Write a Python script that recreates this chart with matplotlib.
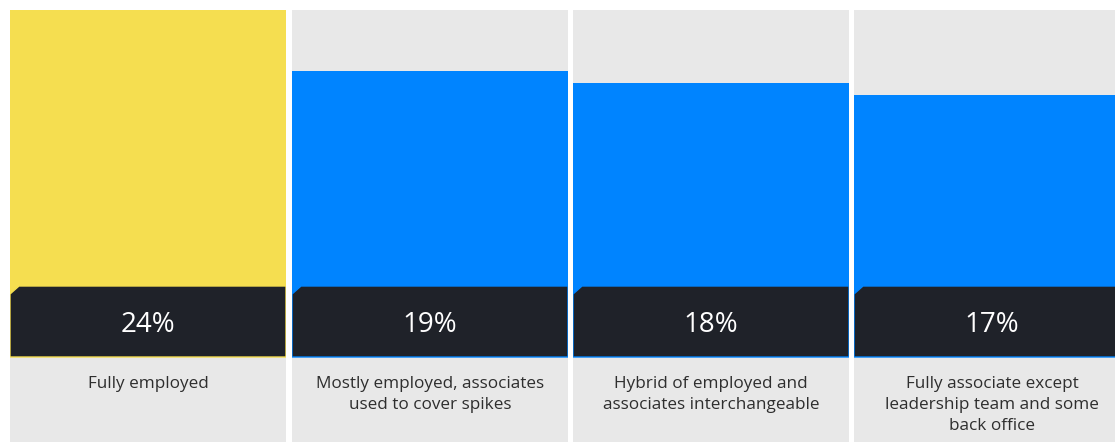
import matplotlib
matplotlib.use("Agg")
import matplotlib.pyplot as plt
from matplotlib.patches import Polygon

categories = [
    "Fully employed",
    "Mostly employed, associates\nused to cover spikes",
    "Hybrid of employed and\nassociates interchangeable",
    "Fully associate except\nleadership team and some\nback office",
]
values = [24, 19, 18, 17]
labels = ["24%", "19%", "18%", "17%"]
colors = ["#f5de50", "#0084ff", "#0084ff", "#0084ff"]

W, H = 1115, 442
fig = plt.figure(figsize=(W / 100, H / 100), dpi=100)
fig.patch.set_facecolor("white")

panel_w = 276
panel_top = 10
panel_lefts = [10, 292, 573, 854]
vmax = max(values)
# baseline (value 0) at pixel 303 ; top (vmax) at pixel 10
base_frac = (H - 303) / (H - panel_top)
ymin = -vmax * base_frac / (1 - base_frac)

band_top = (H - 286) / (H - panel_top)
band_bot = (H - 357) / (H - panel_top)

for i, (cat, v, lab, c) in enumerate(zip(categories, values, labels, colors)):
    ax = fig.add_axes([panel_lefts[i] / W, 0, panel_w / W, (H - panel_top) / H])
    ax.set_facecolor("#e8e8e8")
    ax.bar([0], [v], width=1.0, color=c, align="center")
    ax.set_xlim(-0.5, 0.5)
    ax.set_ylim(ymin, vmax)
    ax.set_xticks([])
    ax.set_yticks([])
    for s in ax.spines.values():
        s.set_visible(False)
    # dark band with chamfered top-left corner
    cx = 9 / panel_w
    cy = 8 / (H - panel_top)
    poly = Polygon(
        [(0, band_bot), (0, band_top - cy), (cx, band_top), (1, band_top), (1, band_bot)],
        closed=True, transform=ax.transAxes, facecolor="#1f2229",
        edgecolor=c, linewidth=1.0, zorder=3,
    )
    ax.add_patch(poly)
    ax.text(0.5, (H - 325) / (H - panel_top), lab, transform=ax.transAxes,
            ha="center", va="center", color="white", fontsize=20,
            family="Open Sans", fontweight="normal", zorder=4)
    ax.text(0.5, (H - 376) / (H - panel_top), cat, transform=ax.transAxes,
            ha="center", va="top", color="#2e2e2e", fontsize=12.3,
            family="Open Sans", linespacing=1.4, zorder=4)

fig.savefig("out.png", dpi=100, facecolor="white")
